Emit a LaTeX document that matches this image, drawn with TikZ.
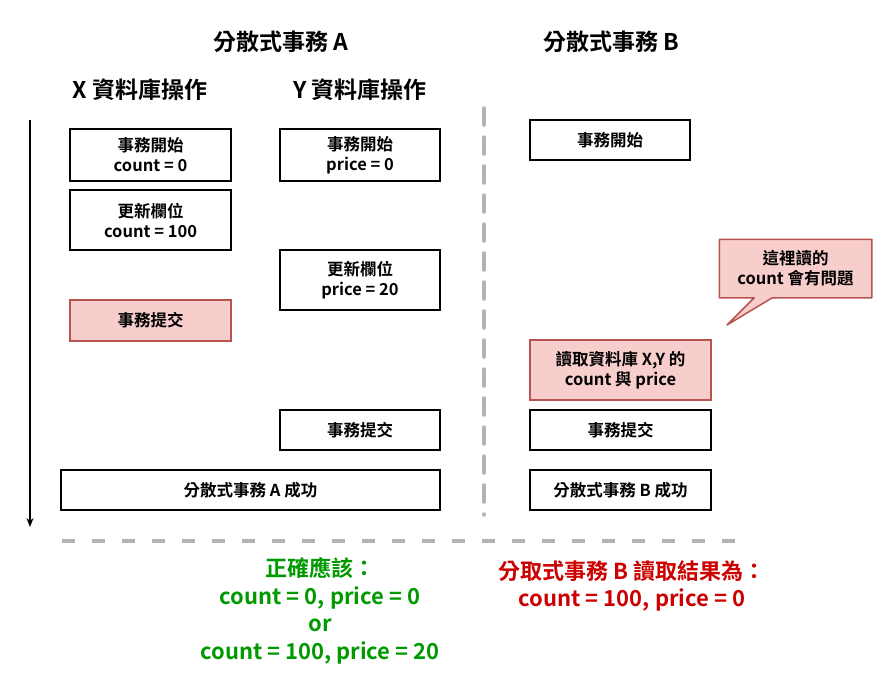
\documentclass[tikz,border=0pt]{standalone}
\usepackage{fontspec}
\setmainfont{Noto Sans CJK TC}[BoldFont={Noto Sans CJK TC Bold}]
\usetikzlibrary{arrows.meta,calc,backgrounds}
\definecolor{redfill}{HTML}{F8CECC}
\definecolor{redline}{HTML}{B85450}
\definecolor{okgreen}{HTML}{009900}
\definecolor{badred}{HTML}{CC0000}
\definecolor{dashgray}{HTML}{B3B3B3}
\begin{document}
\begin{tikzpicture}[x=1pt,y=-1pt,
  box/.style={draw=black, line width=1.5pt, fill=white, align=center,
    font=\fontsize{16.5}{20}\selectfont\bfseries, inner sep=0pt},
  redbox/.style={box, draw=redline, fill=redfill},
  header/.style={font=\fontsize{23}{26}\selectfont\bfseries, inner sep=0pt},
  result/.style={font=\fontsize{22}{27.5}\selectfont\bfseries, align=center, inner sep=0pt},
  gdash/.style={draw=dashgray, line width=3.5pt}]
\useasboundingbox (0,0) rectangle (891,681);

% headers
\node[header] (ta) at (281,42) {分散式事務 A};
\node[header] (tb) at (611,42) {分散式事務 B};
\node[header] (hx) at (140,90) {X 資料庫操作};
\node[header] (hy) at (360,90) {Y 資料庫操作};

% time arrow
\coordinate (arrtop) at (30,120);
\coordinate (arrbot) at (30,527);
\draw[line width=2pt, -{Stealth[length=9pt,width=7pt]}] (arrtop) -- (arrbot);

% X column
\node[box, minimum width=161pt, minimum height=52pt] (xs) at (150.5,155) {事務開始\\count = 0};
\node[box, minimum width=161pt, minimum height=60pt] (xu) at (150.5,220) {更新欄位\\count = 100};
\node[redbox, minimum width=161pt, minimum height=41pt] (xc) at (150.5,320.5) {事務提交};

% Y column
\node[box, minimum width=160pt, minimum height=52pt] (ys) at (360,155) {事務開始\\price = 0};
\node[box, minimum width=160pt, minimum height=60pt] (yu) at (360,280) {更新欄位\\price = 20};
\node[box, minimum width=160pt, minimum height=40pt] (yc) at (360,430) {事務提交};

% A success
\node[box, minimum width=379pt, minimum height=40pt] (aok) at (250.5,490) {分散式事務 A 成功};

% separator
\coordinate (vtop) at (484,108);
\coordinate (vbot) at (484,515);
\draw[draw=dashgray, line width=3.5pt, dash pattern=on 17pt off 12pt, line cap=round] (vtop) -- (vbot);

% B column
\node[box, minimum width=160pt, minimum height=40pt] (bs) at (610,140) {事務開始};
\node[redbox, minimum width=181pt, minimum height=60pt] (br) at (620.5,370) {讀取資料庫 X,Y 的\\count 與 price};
\node[box, minimum width=181pt, minimum height=40pt] (bc) at (620.5,430) {事務提交};
\node[box, minimum width=181pt, minimum height=40pt] (bok) at (620.5,490) {分散式事務 B 成功};

% callout
\node[box, draw=none, fill=none, minimum width=151pt, minimum height=57pt] (cb) at (795.5,268.5) {這裡讀的\\count 會有問題};
\coordinate (tip) at (727,325);
\begin{scope}[on background layer]
\draw[draw=redline, fill=redfill, line width=1.5pt, line join=round]
  (cb.north west) -- (cb.north east) -- (cb.south east)
  -- ($(cb.south west)+(53,0)$) -- (tip) -- ($(cb.south west)+(35,0)$)
  -- (cb.south west) -- cycle;
\end{scope}

% horizontal separator
\coordinate (hl) at (62,541);
\coordinate (hr) at (738,541);
\draw[gdash, dash pattern=on 13pt off 17pt] (hl) -- (hr);

% results
\node[result, text=okgreen] (good) at (320,611) {正確應該：\\count = 0, price = 0\\or\\count = 100, price = 20};
\node[result, text=badred] (bad) at (632,586) {分取式事務 B 讀取結果為：\\count = 100, price = 0};
\end{tikzpicture}
\end{document}
